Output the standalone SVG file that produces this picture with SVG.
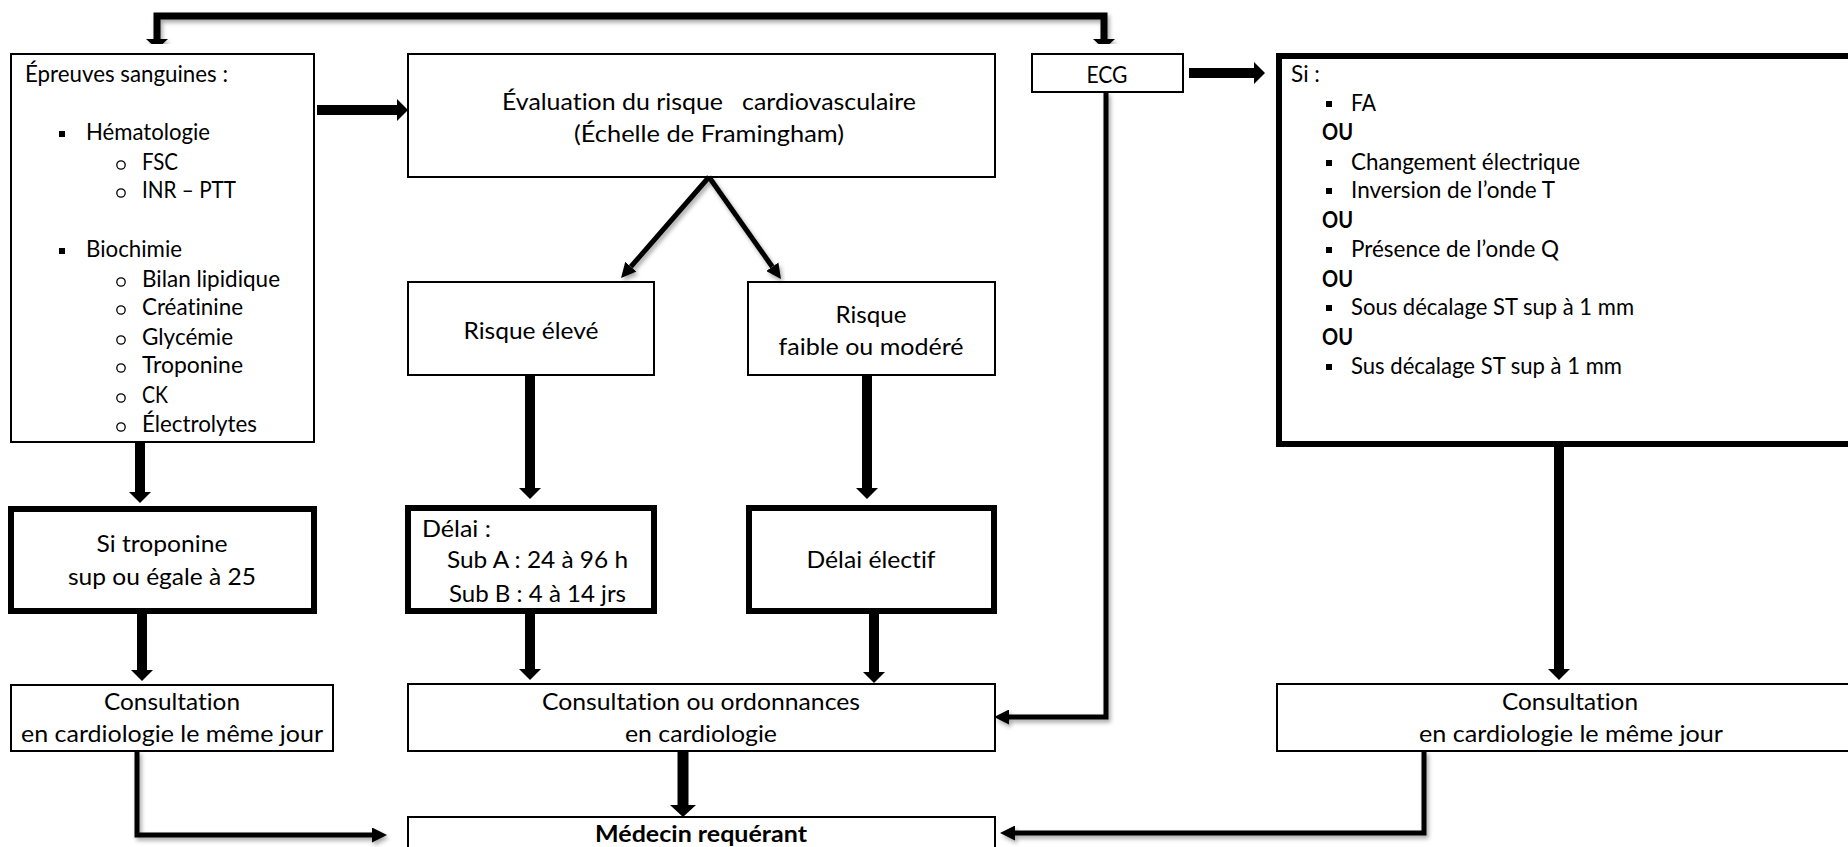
<svg xmlns="http://www.w3.org/2000/svg" width="1848" height="847" viewBox="0 0 1848 847">
<style>
text{font-family:Lato,"Open Sans","Liberation Sans",sans-serif;font-size:23px;fill:#000;font-variant-ligatures:none}
.c{text-anchor:middle}
.b{font-weight:700}
.box{fill:#fff;stroke:#000;stroke-width:2}
.thick{fill:#fff;stroke:#000;stroke-width:6}
.sq{fill:#000}
.ci{fill:none;stroke:#000;stroke-width:1.3}
.ln{fill:none;stroke:#000;stroke-linejoin:miter}
.w10{stroke-width:10;marker-end:url(#hBig)}
.w5{stroke-width:5}
.sh{filter:url(#shadow)}
</style>
<defs>
<filter id="shadow" x="-20%" y="-20%" width="140%" height="140%">
<feDropShadow dx="2" dy="3" stdDeviation="2" flood-color="#000" flood-opacity="0.35"/>
</filter>
<marker id="hBig" markerUnits="userSpaceOnUse" viewBox="0 0 11 22" refX="0" refY="11" markerWidth="11" markerHeight="22" orient="auto"><path d="M0,0 L11,11 L0,22 Z" fill="#000"/></marker>
<marker id="hMed" markerUnits="userSpaceOnUse" viewBox="0 0 12 26" refX="0" refY="13" markerWidth="12" markerHeight="26" orient="auto"><path d="M0,0 L12,13 L0,26 Z" fill="#000"/></marker>
<marker id="hTop" markerUnits="userSpaceOnUse" viewBox="0 0 10 22" refX="0" refY="11" markerWidth="10" markerHeight="22" orient="auto-start-reverse"><path d="M0,0 L10,11 L0,22 Z" fill="#000"/></marker>
<marker id="hThin" markerUnits="userSpaceOnUse" viewBox="0 0 15 15" refX="0" refY="7.5" markerWidth="15" markerHeight="15" orient="auto"><path d="M0,0 L15,7.5 L0,15 Z" fill="#000"/></marker>
</defs>

<g id="n-epreuves">
<rect class="box" x="11" y="54" width="303" height="388"/>
<text x="25" y="82" textLength="203" lengthAdjust="spacingAndGlyphs">Épreuves sanguines :</text>
<rect class="sq" x="59" y="131" width="6" height="6"/>
<text x="86" y="140" textLength="124" lengthAdjust="spacingAndGlyphs">Hématologie</text>
<circle class="ci" cx="121" cy="165" r="4.2"/>
<text x="142" y="170" textLength="36" lengthAdjust="spacingAndGlyphs">FSC</text>
<circle class="ci" cx="121" cy="193" r="4.2"/>
<text x="142" y="198" textLength="94" lengthAdjust="spacingAndGlyphs">INR – PTT</text>
<rect class="sq" x="59" y="248" width="6" height="6"/>
<text x="86" y="257" textLength="96" lengthAdjust="spacingAndGlyphs">Biochimie</text>
<circle class="ci" cx="121" cy="282" r="4.2"/>
<text x="142" y="287" textLength="138" lengthAdjust="spacingAndGlyphs">Bilan lipidique</text>
<circle class="ci" cx="121" cy="310" r="4.2"/>
<text x="142" y="315" textLength="101" lengthAdjust="spacingAndGlyphs">Créatinine</text>
<circle class="ci" cx="121" cy="340" r="4.2"/>
<text x="142" y="345" textLength="91" lengthAdjust="spacingAndGlyphs">Glycémie</text>
<circle class="ci" cx="121" cy="368" r="4.2"/>
<text x="142" y="373" textLength="101" lengthAdjust="spacingAndGlyphs">Troponine</text>
<circle class="ci" cx="121" cy="398" r="4.2"/>
<text x="142" y="403" textLength="26" lengthAdjust="spacingAndGlyphs">CK</text>
<circle class="ci" cx="121" cy="427" r="4.2"/>
<text x="142" y="432" textLength="115" lengthAdjust="spacingAndGlyphs">Électrolytes</text>
</g>

<g id="n-evaluation">
<rect class="box" x="408" y="54" width="587" height="123"/>
<text class="c" x="709" y="110" textLength="414" lengthAdjust="spacingAndGlyphs" xml:space="preserve">Évaluation du risque   cardiovasculaire</text>
<text class="c" x="709" y="142" textLength="270" lengthAdjust="spacingAndGlyphs">(Échelle de Framingham)</text>
</g>

<g id="n-ecg">
<rect class="box" x="1032" y="54" width="151" height="38"/>
<text class="c" x="1107" y="83" textLength="41" lengthAdjust="spacingAndGlyphs">ECG</text>
</g>

<g id="n-si">
<rect class="thick" x="1279" y="56" width="600" height="388"/>
<text x="1291" y="82" textLength="29" lengthAdjust="spacingAndGlyphs">Si :</text>
<rect class="sq" x="1326" y="101" width="6" height="6"/>
<text x="1351" y="111" textLength="25" lengthAdjust="spacingAndGlyphs">FA</text>
<text class="b" x="1322" y="140" textLength="31" lengthAdjust="spacingAndGlyphs">OU</text>
<rect class="sq" x="1326" y="160" width="6" height="6"/>
<text x="1351" y="170" textLength="229" lengthAdjust="spacingAndGlyphs">Changement électrique</text>
<rect class="sq" x="1326" y="188" width="6" height="6"/>
<text x="1351" y="198" textLength="204" lengthAdjust="spacingAndGlyphs">Inversion de l’onde T</text>
<text class="b" x="1322" y="228" textLength="31" lengthAdjust="spacingAndGlyphs">OU</text>
<rect class="sq" x="1326" y="247" width="6" height="6"/>
<text x="1351" y="257" textLength="208" lengthAdjust="spacingAndGlyphs">Présence de l’onde Q</text>
<text class="b" x="1322" y="287" textLength="31" lengthAdjust="spacingAndGlyphs">OU</text>
<rect class="sq" x="1326" y="305" width="6" height="6"/>
<text x="1351" y="315" textLength="283" lengthAdjust="spacingAndGlyphs">Sous décalage ST sup à 1 mm</text>
<text class="b" x="1322" y="345" textLength="31" lengthAdjust="spacingAndGlyphs">OU</text>
<rect class="sq" x="1326" y="364" width="6" height="6"/>
<text x="1351" y="374" textLength="271" lengthAdjust="spacingAndGlyphs">Sus décalage ST sup à 1 mm</text>
</g>

<g id="n-risque-eleve">
<rect class="box" x="408" y="282" width="246" height="93"/>
<text class="c" x="531" y="339" textLength="135" lengthAdjust="spacingAndGlyphs">Risque élevé</text>
</g>

<g id="n-risque-faible">
<rect class="box" x="748" y="282" width="247" height="93"/>
<text class="c" x="871" y="323" textLength="71" lengthAdjust="spacingAndGlyphs">Risque</text>
<text class="c" x="871" y="355" textLength="185" lengthAdjust="spacingAndGlyphs">faible ou modéré</text>
</g>

<g id="n-troponine">
<rect class="thick" x="11" y="509" width="303" height="102"/>
<text class="c" x="162" y="552" textLength="131" lengthAdjust="spacingAndGlyphs">Si troponine</text>
<text class="c" x="162" y="585" textLength="188" lengthAdjust="spacingAndGlyphs">sup ou égale à 25</text>
</g>

<g id="n-delai">
<rect class="thick" x="408" y="508" width="246" height="103"/>
<text x="422" y="537" textLength="69" lengthAdjust="spacingAndGlyphs">Délai :</text>
<text x="447" y="568" textLength="181" lengthAdjust="spacingAndGlyphs">Sub A : 24 à 96 h</text>
<text x="449" y="602" textLength="177" lengthAdjust="spacingAndGlyphs">Sub B : 4 à 14 jrs</text>
</g>

<g id="n-delai-electif">
<rect class="thick" x="749" y="508" width="245" height="103"/>
<text class="c" x="871" y="568" textLength="129" lengthAdjust="spacingAndGlyphs">Délai électif</text>
</g>

<g id="n-consult-gauche">
<rect class="box" x="11" y="685" width="322" height="66"/>
<text class="c" x="172" y="710" textLength="136" lengthAdjust="spacingAndGlyphs">Consultation</text>
<text class="c" x="172" y="742" textLength="302" lengthAdjust="spacingAndGlyphs">en cardiologie le même jour</text>
</g>

<g id="n-consult-ordonnances">
<rect class="box" x="408" y="684" width="587" height="67"/>
<text class="c" x="701" y="710" textLength="318" lengthAdjust="spacingAndGlyphs">Consultation ou ordonnances</text>
<text class="c" x="701" y="742" textLength="152" lengthAdjust="spacingAndGlyphs">en cardiologie</text>
</g>

<g id="n-consult-droite">
<rect class="box" x="1277" y="684" width="600" height="67"/>
<text class="c" x="1570" y="710" textLength="136" lengthAdjust="spacingAndGlyphs">Consultation</text>
<text class="c" x="1571" y="742" textLength="304" lengthAdjust="spacingAndGlyphs">en cardiologie le même jour</text>
</g>

<g id="n-medecin">
<rect class="box" x="408" y="817" width="587" height="60"/>
<text class="c b" x="701" y="842" textLength="212" lengthAdjust="spacingAndGlyphs">Médecin requérant</text>
</g>

<g id="connectors">
<path class="ln sh" d="M157,39 V16 H1104 V39" stroke-width="7" marker-start="url(#hTop)" marker-end="url(#hTop)"/>
<path class="ln w10" d="M317,110 H397"/>
<path class="ln sh" d="M709,177 L630.9,266.7" stroke-width="5" marker-end="url(#hThin)"/>
<path class="ln sh" d="M709,177 L772.3,266.7" stroke-width="5" marker-end="url(#hThin)"/>
<path class="ln w10" d="M140,442 V492"/>
<path class="ln w10" d="M530,375 V488"/>
<path class="ln w10" d="M867,375 V488"/>
<path class="ln w10" d="M142,614 V670"/>
<path class="ln w10" d="M530,614 V669"/>
<path class="ln w10" d="M874,614 V672"/>
<path class="ln w10" d="M1189,73 H1254"/>
<path class="ln w10" d="M1559,447 V669"/>
<path class="ln" d="M683,751 V805" stroke-width="11" marker-end="url(#hMed)"/>
<path class="ln w5 sh" d="M1106,92 V717 H1009" marker-end="url(#hThin)"/>
<path class="ln w5 sh" d="M137,751 V835 H372" marker-end="url(#hThin)"/>
<path class="ln w5 sh" d="M1424,751 V833 H1015" marker-end="url(#hThin)"/>
</g>
</svg>
